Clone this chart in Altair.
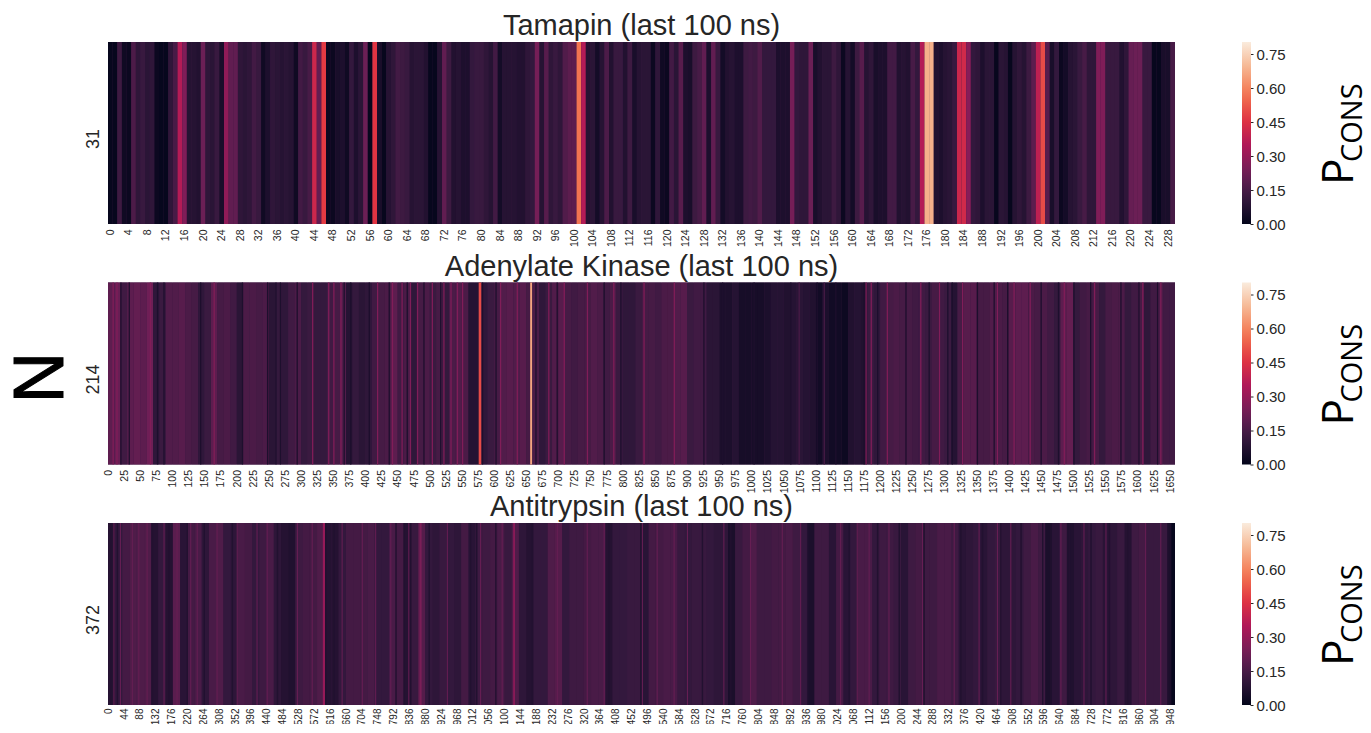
import altair as alt

FONT = "Liberation Sans"
INK = "#262626"
ROCKET = ["#03051a", "#35193e", "#701f57", "#ad1759", "#e13342", "#f37651", "#f6b48f", "#faebdd"]
VMAX = 0.803
BAR_TICKS = [0.0, 0.15, 0.30, 0.45, 0.60, 0.75]
KINASE_CALIBRATION = 1.13
ANTITRYPSIN_CALIBRATION = 1.1

tamapin = [
 .01,.01,.13,.03,.02,.16,.10,.12,.09,.10,.02,.01,.01,.10,.15,.36,.26,.08,.08,.07,
 .22,.10,.09,.12,.05,.29,.20,.20,.10,.09,.10,.14,.12,.03,.06,.10,.09,.08,.09,.08,
 .03,.14,.12,.15,.41,.20,.47,.02,.02,.05,.06,.03,.11,.06,.09,.22,.01,.46,.05,.01,
 .08,.10,.14,.13,.12,.08,.09,.09,.07,.01,.01,.08,.20,.13,.07,.08,.06,.06,.11,.12,
 .12,.10,.08,.14,.04,.08,.08,.08,.07,.07,.10,.11,.24,.08,.18,.10,.12,.10,.17,.19,
 .19,.57,.36,.08,.09,.04,.08,.16,.07,.12,.12,.07,.13,.05,.08,.09,.09,.02,.10,.03,
 .02,.14,.09,.18,.06,.05,.13,.15,.20,.06,.20,.12,.04,.07,.08,.06,.06,.13,.14,.13,
 .17,.11,.11,.11,.06,.06,.06,.24,.11,.10,.10,.22,.05,.07,.09,.09,.13,.10,.02,.08,
 .04,.13,.18,.08,.10,.05,.06,.06,.14,.14,.07,.08,.07,.15,.11,.36,.68,.68,.07,.06,
 .08,.09,.12,.41,.42,.27,.11,.10,.06,.09,.09,.01,.09,.08,.01,.08,.10,.08,.13,.19,
 .38,.50,.18,.05,.11,.02,.04,.08,.09,.12,.15,.10,.10,.26,.26,.12,.12,.12,.07,.10,
 .21,.22,.22,.12,.12,.01,.01,.05,.05,.15,
]

kinase_bins = [
 .17,.19,.12,.17,.18,.17,.20,.09,.11,.15,.15,.16,.14,.13,.09,.11,.17,.13,.14,.12,
 .08,.14,.14,.13,.14,.08,.10,.09,.12,.14,.10,.11,.10,.10,.12,.13,.15,.07,.10,.08,
 .09,.12,.13,.14,.17,.12,.14,.09,.13,.14,.11,.13,.10,.14,.15,.14,.07,.07,.09,.11,
 .13,.15,.16,.15,.16,.13,.14,.09,.11,.15,.16,.13,.12,.13,.13,.15,.14,.12,.14,.11,
 .09,.09,.11,.13,.13,.12,.14,.14,.15,.16,.11,.12,.12,.08,.08,.05,.05,.07,.04,.04,
 .04,.04,.05,.07,.07,.06,.07,.08,.07,.06,.03,.05,.03,.03,.02,.06,.07,.06,.11,.09,
 .12,.13,.14,.13,.13,.12,.12,.11,.13,.12,.11,.07,.13,.16,.16,.13,.13,.15,.14,.13,
 .16,.17,.17,.14,.13,.14,.12,.10,.17,.18,.10,.12,.13,.13,.10,.13,.14,.14,.10,.12,
 .13,.09,.12,.14,.12,.12,
]
kinase_bright = [7, 13, 65, 164, 317, 342, 350, 361, 418, 441, 456, 469, 480, 503, 521, 532, 542, 550,
                 609, 635, 684, 708, 744, 785, 832, 879, 1177, 1185, 1210, 1262, 1291, 1327, 1381, 1407,
                 1432, 1485, 1532, 1607, 1635]
kinase_dim = [1073, 1112]
kinase_dark = [19, 32, 76, 86, 143, 208, 247, 260, 267, 293, 366, 376, 405, 436, 464, 490, 516, 581, 602,
               664, 697, 770, 796, 925, 954, 1003, 1060, 1101, 1130, 1174, 1195, 1239, 1275, 1304, 1311,
               1350, 1376, 1397, 1449, 1476, 1500, 1526, 1573, 1601, 1630]
kinase_spike_at = [576, 656]
kinase_spike_w = [4, 3]
kinase_spike_v = [.50, .66]

antitrypsin_bins = [
 .07,.10,.13,.15,.15,.15,.07,.10,.07,.17,.08,.13,.14,.09,.14,.15,.10,.09,.14,.13,
 .10,.12,.14,.09,.07,.06,.12,.13,.13,.15,.07,.07,.10,.13,.13,.13,.14,.10,.10,.14,
 .13,.07,.11,.16,.10,.09,.11,.10,.09,.13,.08,.12,.12,.13,.14,.11,.15,.09,.07,.10,
 .10,.15,.16,.10,.12,.12,.13,.14,.14,.07,.10,.10,.11,.11,.08,.13,.13,.14,.14,.11,
 .10,.11,.11,.10,.09,.09,.05,.11,.13,.15,.12,.12,.13,.13,.14,.12,.10,.05,.12,.12,
 .08,.13,.08,.10,.14,.14,.10,.12,.12,.11,.08,.12,.13,.12,.12,.14,.14,.12,.08,.09,
 .10,.08,.10,.11,.09,.09,.10,.12,.14,.12,.05,.08,.12,.06,.08,.09,.10,.11,.08,.09,
 .11,.07,.12,.13,.11,.11,.11,.05,
]
antitrypsin_bright = [15, 33, 66, 84, 107, 154, 190, 228, 246, 301, 357, 412, 440, 524, 565, 648, 704, 741,
                      783, 833, 940, 1032, 1092, 1245, 1328, 1375, 1481, 1522, 1569, 1606, 1707, 1781,
                      1869, 1920, 2031, 2077, 2110, 2165, 2258, 2346, 2415, 2466, 2503, 2642, 2706, 2767,
                      2877, 2919]
antitrypsin_dark = [6, 24, 121, 167, 218, 265, 343, 468, 500, 602, 625, 797, 820, 838, 889, 1004, 1021, 1074,
                    1176, 1388, 1476, 1647, 1726, 1939, 2054, 2133, 2193, 2262, 2364, 2424, 2475, 2531,
                    2591, 2614, 2665, 2725, 2776, 2827, 2938]
antitrypsin_spike_at = [596, 864, 1124, 2950]
antitrypsin_spike_w = [6, 6, 5, 10]
antitrypsin_spike_v = [.30, .25, .28, .01]


def bins(values, width, total, gain=1.0):
    return [{"a": i * width, "b": min((i + 1) * width, total), "v": v * gain}
            for i, v in enumerate(values)]


def stripes(at, width, value):
    return [{"a": a, "b": a + width, "v": value} for a in at]


def spikes(at, widths, values):
    return [{"a": a, "b": a + w, "v": v} for a, w, v in zip(at, widths, values)]


def panel(title, row_label, rows, total, tick_step, tick_limit, label_size=10.5, label_pad=5, extra=()):
    ticks = [i + 0.5 for i in range(0, tick_limit + 1, tick_step)]
    for r in rows:
        r["row"] = row_label
    heat = alt.Chart(alt.Data(values=rows)).mark_rect().encode(
        x=alt.X("a:Q", scale=alt.Scale(domain=[0, total], nice=False, zero=False), title=None,
                axis=alt.Axis(values=ticks, labelExpr="floor(datum.value)", grid=False, domain=False,
                              ticks=False, labelAngle=270, labelAlign="right", labelBaseline="middle",
                              labelPadding=label_pad, labelFontSize=label_size, labelFont=FONT, labelColor=INK,
                              labelOverlap=False, labelFlush=False, labelBound=False)),
        x2="b:Q",
        y=alt.Y("row:N", title=None, scale=alt.Scale(paddingInner=0, paddingOuter=0),
                axis=alt.Axis(grid=False, domain=False, ticks=False, labelAngle=270, labelAlign="center",
                              labelBaseline="bottom", labelPadding=6, labelOffset=6, labelFontSize=18,
                              labelFont=FONT, labelColor=INK)),
        color=alt.Color("v:Q", scale=alt.Scale(domain=[0, VMAX], range=ROCKET, interpolate="rgb"),
                        legend=alt.Legend(orient="none", legendX=1134, legendY=0, title=None,
                                          gradientLength=182, gradientThickness=9, values=[],
                                          gradientStrokeWidth=0)),
    )
    bar_axis = alt.Chart(alt.Data(values=[{"t": t} for t in BAR_TICKS])).mark_point(opacity=0).encode(
        y=alt.Y("t:Q", title=None, scale=alt.Scale(domain=[0, VMAX], nice=False),
                axis=alt.Axis(orient="right", offset=75, values=BAR_TICKS, format=".2f", grid=False,
                              domain=False, tickSize=3, tickColor=INK, tickWidth=1, labelPadding=3,
                              labelFontSize=15, labelFont=FONT, labelColor=INK, labelOverlap=False,
                              labelFlush=False, labelBound=False)),
        x=alt.value(0),
    )
    p = alt.Chart(alt.Data(values=[{}])).mark_text(
        text="P", angle=270, align="left", baseline="alphabetic", font="Open Sans", fontSize=44, color="black"
    ).encode(x=alt.value(1245), y=alt.value(143))
    cons = alt.Chart(alt.Data(values=[{}])).mark_text(
        text="CONS", angle=270, align="left", baseline="alphabetic", font="Open Sans", fontSize=29, color="black"
    ).encode(x=alt.value(1254), y=alt.value(120))
    return alt.layer(heat, bar_axis, p, cons, *extra).resolve_scale(y="independent").properties(
        width=1067, height=182,
        title=alt.TitleParams(title, font=FONT, fontSize=29, fontWeight="normal", color=INK, offset=1),
    )


n_label = alt.Chart(alt.Data(values=[{}])).mark_text(
    text="N", angle=270, align="center", baseline="alphabetic", font=FONT, fontSize=71, color="black",
    stroke="black", strokeWidth=1,
).encode(x=alt.value(-45), y=alt.value(95))

top = panel("Tamapin (last 100 ns)", "31", bins(tamapin, 1, 230), 230, 4, 228)
mid = panel("Adenylate Kinase (last 100 ns)", "214",
            bins(kinase_bins, 10, 1658, KINASE_CALIBRATION) + stripes(kinase_bright, 2, .26) + stripes(kinase_dim, 2, .15)
            + stripes(kinase_dark, 2, .06) + spikes(kinase_spike_at, kinase_spike_w, kinase_spike_v),
            1658, 25, 1650, extra=[n_label])
low = panel("Antitrypsin (last 100 ns)", "372",
            bins(antitrypsin_bins, 20, 2960, ANTITRYPSIN_CALIBRATION) + stripes(antitrypsin_bright, 3, .21)
            + stripes(antitrypsin_dark, 4, .07)
            + spikes(antitrypsin_spike_at, antitrypsin_spike_w, antitrypsin_spike_v),
            2960, 44, 2948, label_size=10, label_pad=3)

chart = alt.vconcat(top, mid, low, spacing=58.5, bounds="flush").resolve_scale(
    color="independent"
).properties(
    autosize=alt.AutoSizeParams(type="none"),
    padding={"left": 100, "top": 34, "right": 188, "bottom": 682},
    background="white",
).configure_view(stroke=None, fill="#3a1a42")

chart.save("out.html", embed_options={"renderer": "svg", "actions": False})
